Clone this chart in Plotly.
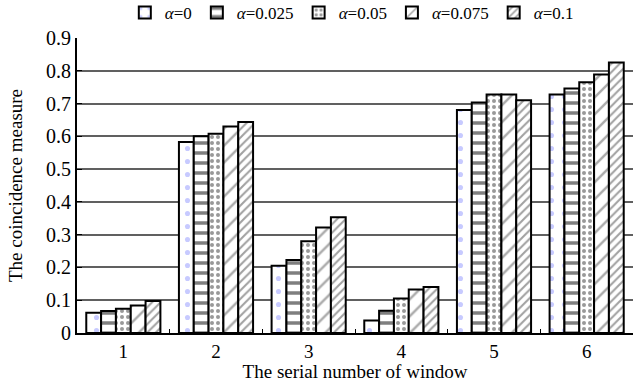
import plotly.graph_objects as go

windows = ["1", "2", "3", "4", "5", "6"]
series_names = ["<i>α</i>=0", "<i>α</i>=0.025", "<i>α</i>=0.05", "<i>α</i>=0.075", "<i>α</i>=0.1"]
a0 = [0.062, 0.583, 0.205, 0.038, 0.680, 0.728]
a0025 = [0.067, 0.600, 0.223, 0.068, 0.703, 0.746]
a005 = [0.074, 0.608, 0.280, 0.105, 0.728, 0.765]
a0075 = [0.084, 0.630, 0.322, 0.133, 0.728, 0.789]
a01 = [0.098, 0.644, 0.353, 0.140, 0.710, 0.825]
y_ticks = [0, 0.1, 0.2, 0.3, 0.4, 0.5, 0.6, 0.7, 0.8, 0.9]

series = [a0, a0025, a005, a0075, a01]
patterns = [
    dict(shape=".", fgcolor="#8f96ff", bgcolor="white", size=13, solidity=0.12),
    dict(shape="-", fgcolor="black", bgcolor="white", size=10, solidity=0.35),
    dict(shape=".", fgcolor="#333333", bgcolor="white", size=6, solidity=0.35),
    dict(shape="/", fgcolor="#555555", bgcolor="white", size=12, solidity=0.2),
    dict(shape="/", fgcolor="#444444", bgcolor="white", size=6, solidity=0.35),
]

fig = go.Figure()
for name, vals, pat in zip(series_names, series, patterns):
    fig.add_trace(go.Bar(
        x=windows, y=vals, name=name,
        marker=dict(color="white", pattern=pat, line=dict(color="black", width=2)),
    ))

font = dict(family="Liberation Serif, Times New Roman, serif", size=20, color="black")
fig.update_layout(
    width=633, height=382,
    margin=dict(l=77, r=0, t=38, b=49, autoexpand=False),
    paper_bgcolor="white", plot_bgcolor="white",
    font=font,
    barmode="group", bargap=0.2, bargroupgap=0,
    showlegend=True,
    legend=dict(orientation="h", x=0.086, y=1.085, xanchor="left", yanchor="middle",
                font=dict(size=17), traceorder="normal", itemwidth=30,
                bgcolor="rgba(0,0,0,0)"),
    xaxis=dict(title=dict(text="The serial number of window", standoff=0, font=dict(size=19)),
               showline=True, linecolor="black", linewidth=2,
               ticks="inside", tickson="boundaries", ticklen=4, tickcolor="black",
               tickfont=dict(size=19), automargin=False),
    yaxis=dict(title=dict(text="The coincidence measure", standoff=18, font=dict(size=19)),
               range=[0, 0.9], tickvals=y_ticks, ticktext=[f"{v:g}" for v in y_ticks],
               showgrid=True, gridcolor="#606060", gridwidth=1.5,
               showline=True, linecolor="black", linewidth=2,
               ticks="inside", ticklen=5, tickcolor="black", tickfont=dict(size=20),
               zeroline=False, automargin=False),
)

fig.write_html("out.html", config={"displayModeBar": False},
               post_script="document.body.style.margin='0px';document.body.style.overflow='hidden';")
